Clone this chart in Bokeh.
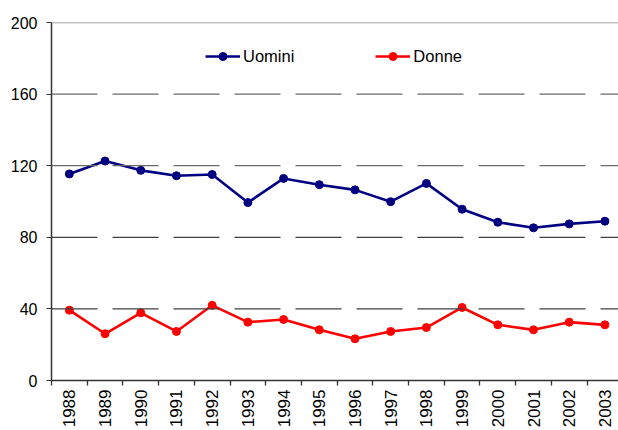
import math
from bokeh.plotting import figure
from bokeh.models import FixedTicker, Span, Legend, LegendItem, Range1d
from bokeh.embed import file_html
from bokeh.resources import INLINE

years = [str(y) for y in range(1988, 2004)]
uomini = [115.4, 122.6, 117.4, 114.4, 115.1, 99.4, 112.9, 109.4, 106.5, 99.9, 110.1, 95.7, 88.4, 85.3, 87.5, 89.0]
donne = [39.3, 26.1, 37.8, 27.4, 42.0, 32.6, 34.1, 28.3, 23.3, 27.4, 29.6, 40.8, 31.1, 28.3, 32.6, 31.1]
y_ticks = [0, 40, 80, 120, 160, 200]

xs = list(range(len(years)))
FONT = "Liberation Sans"

p = figure(width=618, height=430, output_backend="svg", toolbar_location=None,
           x_range=Range1d(-0.5, 15.38), y_range=Range1d(0, 200),
           min_border_left=51, min_border_top=22, min_border_right=0, min_border_bottom=48)
p.outline_line_color = None
p.xgrid.visible = False
p.ygrid.visible = False
p.background_fill_color = "white"
p.border_fill_color = "white"

# gridlines
grid_colors = {40: "#404040", 80: "#404040", 120: "#6a6a6a", 160: "#6a6a6a"}
for t in y_ticks[1:-1]:
    p.add_layout(Span(location=t, dimension="width", line_color=grid_colors[t],
                      line_width=1.3, line_dash="46 15"))
p.add_layout(Span(location=y_ticks[-1], dimension="width", line_color="#888888", line_width=1.3))

# axes
p.yaxis.ticker = FixedTicker(ticks=y_ticks)
p.yaxis.major_tick_out = 5
p.yaxis.major_tick_in = 0
p.yaxis.minor_tick_line_color = None
p.yaxis.axis_line_color = "#333333"
p.yaxis.axis_line_width = 1.5
p.yaxis.major_tick_line_color = "#333333"
p.yaxis.major_label_text_font = FONT
p.yaxis.major_label_text_font_size = "16px"
p.yaxis.major_label_text_color = "black"
p.yaxis.major_label_standoff = 9

p.xaxis.ticker = FixedTicker(ticks=xs, minor_ticks=[i - 0.5 for i in range(len(years) + 1)])
p.xaxis.major_label_overrides = {i: y for i, y in zip(xs, years)}
p.xaxis.major_tick_line_color = None
p.xaxis.minor_tick_out = 5
p.xaxis.minor_tick_in = 0
p.xaxis.minor_tick_line_color = "#333333"
p.xaxis.minor_tick_line_width = 1.3
p.xaxis.axis_line_color = "#333333"
p.xaxis.axis_line_width = 1.5
p.xaxis.major_label_orientation = math.pi / 2
p.xaxis.major_label_text_font = FONT
p.xaxis.major_label_text_font_size = "17px"
p.xaxis.major_label_text_color = "black"
p.xaxis.major_label_standoff = 3

l1 = p.line(xs, uomini, line_color="#000080", line_width=2.6)
s1 = p.scatter(xs, uomini, size=8, fill_color="#000080", line_color="#000080")
l2 = p.line(xs, donne, line_color="#ff0000", line_width=2.6)
s2 = p.scatter(xs, donne, size=8, fill_color="#ff0000", line_color="#ff0000")

legend = Legend(items=[LegendItem(label="Uomini", renderers=[l1, s1]),
                       LegendItem(label="Donne", renderers=[l2, s2])],
                orientation="horizontal", location=(154, 314),
                border_line_color=None, background_fill_alpha=0,
                padding=0, margin=0, spacing=81, glyph_width=35, glyph_height=20,
                label_standoff=3, label_text_font=FONT, label_text_font_size="16.5px",
                label_text_color="black")
p.add_layout(legend)

open("out.html", "w").write(file_html(p, INLINE))
